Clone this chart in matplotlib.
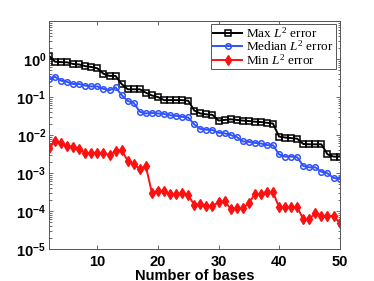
import numpy as np
import matplotlib
matplotlib.use("Agg")
from matplotlib import pyplot as plt
from matplotlib.ticker import FixedLocator, FixedFormatter, LogLocator, NullFormatter

plt.rcParams["mathtext.fontset"] = "custom"
plt.rcParams["mathtext.rm"] = "Liberation Serif"
plt.rcParams["mathtext.it"] = "Liberation Serif:italic"
plt.rcParams["mathtext.bf"] = "Liberation Sans:bold"

n_bases = np.arange(2, 51)

max_err = [
    1.22, 0.85, 0.83, 0.82, 0.74, 0.72, 0.65, 0.62, 0.57, 0.41,
    0.36, 0.36, 0.22, 0.16, 0.16, 0.16, 0.13, 0.11, 0.10, 0.083,
    0.083, 0.083, 0.083, 0.080, 0.044, 0.037, 0.035, 0.034, 0.024, 0.025,
    0.026, 0.025, 0.024, 0.0234, 0.0224, 0.022, 0.021, 0.020, 0.0091, 0.0086,
    0.0083, 0.0080, 0.0058, 0.0057, 0.0057, 0.0057, 0.0031, 0.0027, 0.0027,
]
median_err = [
    0.29, 0.34, 0.27, 0.25, 0.22, 0.22, 0.20, 0.19, 0.19, 0.164,
    0.151, 0.18, 0.113, 0.079, 0.070, 0.041, 0.037, 0.038, 0.037, 0.036,
    0.033, 0.032, 0.030, 0.029, 0.019, 0.0144, 0.0138, 0.0135, 0.0115, 0.0111,
    0.010, 0.0089, 0.0068, 0.0066, 0.0062, 0.0060, 0.0054, 0.0054, 0.0031, 0.0027,
    0.0027, 0.0026, 0.00153, 0.00141, 0.00141, 0.00108, 0.00098, 0.00074, 0.00071,
]
min_err = [
    0.0045, 0.0070, 0.0060, 0.0051, 0.0048, 0.0043, 0.0033, 0.0034, 0.0034, 0.0034,
    0.0029, 0.0038, 0.0040, 0.0021, 0.0017, 0.0013, 0.0015, 0.00030, 0.00034, 0.00034,
    0.00028, 0.00028, 0.00029, 0.00026, 0.000144, 0.000151, 0.000135, 0.000135, 0.000170, 0.000180,
    0.000115, 0.000118, 0.000118, 0.000159, 0.00028, 0.00028, 0.00032, 0.00031, 0.000126, 0.000126,
    0.000126, 0.000126, 0.000061, 0.000061, 0.000090, 0.000075, 0.000074, 0.000074, 0.000049,
]

x_ticks = [10, 20, 30, 40, 50]
y_ticks = [1e-5, 1e-4, 1e-3, 1e-2, 1e-1, 1e0]
y_labels = [r"$\mathbf{10^{-5}}$", r"$\mathbf{10^{-4}}$", r"$\mathbf{10^{-3}}$",
            r"$\mathbf{10^{-2}}$", r"$\mathbf{10^{-1}}$", r"$\mathbf{10^{0}}$"]

fig = plt.figure(figsize=(3.74, 2.81), dpi=100)
ax = fig.add_axes([0.131, 0.114, 0.777, 0.811])

ax.plot(n_bases, max_err, color="k", marker="s", ms=3.8, mfc="none", mew=1.1, lw=1.4,
        label=r"$\mathrm{Max}\ L^2\ \mathrm{error}$")
ax.plot(n_bases, median_err, color="#2f52ff", marker="o", ms=4.0, mfc="none", mew=1.1, lw=1.4,
        label=r"$\mathrm{Median}\ L^2\ \mathrm{error}$")
ax.plot(n_bases, min_err, color="#ff1010", marker="d", ms=5, mew=1.0, lw=1.4,
        label=r"$\mathrm{Min}\ L^2\ \mathrm{error}$")

ax.set_yscale("log")
ax.set_xlim(2, 50)
ax.set_ylim(1e-5, 1e1)

ax.xaxis.set_major_locator(FixedLocator(x_ticks))
ax.yaxis.set_major_locator(FixedLocator(y_ticks))
ax.yaxis.set_major_formatter(FixedFormatter(y_labels))
ax.yaxis.set_minor_locator(LogLocator(base=10, subs=np.arange(2, 10), numticks=20))
ax.yaxis.set_minor_formatter(NullFormatter())

ax.tick_params(which="both", direction="in", top=True, right=True, color="#555555", width=0.6)
ax.tick_params(which="major", length=3)
ax.tick_params(which="minor", length=1.8)
ax.tick_params(axis="x", labelsize=10.5, pad=4)
ax.tick_params(axis="y", labelsize=10.5, pad=2)
for lab in ax.get_xticklabels():
    lab.set_fontfamily("Liberation Sans")
    lab.set_fontweight("bold")
for s in ax.spines.values():
    s.set_color("#555555")
    s.set_linewidth(0.7)

ax.set_xlabel("Number of bases", fontsize=10.5, fontweight="bold", family="Liberation Sans", labelpad=0)

leg = ax.legend(loc="upper right", bbox_to_anchor=(0.987, 0.988), fontsize=9.5,
                labelspacing=-0.08, borderpad=0.15, handletextpad=0.3, handlelength=2.2,
                borderaxespad=0, fancybox=False, framealpha=1)
leg.get_frame().set_edgecolor("#555555")
leg.get_frame().set_linewidth(0.7)

fig.savefig("out.png", dpi=100)
